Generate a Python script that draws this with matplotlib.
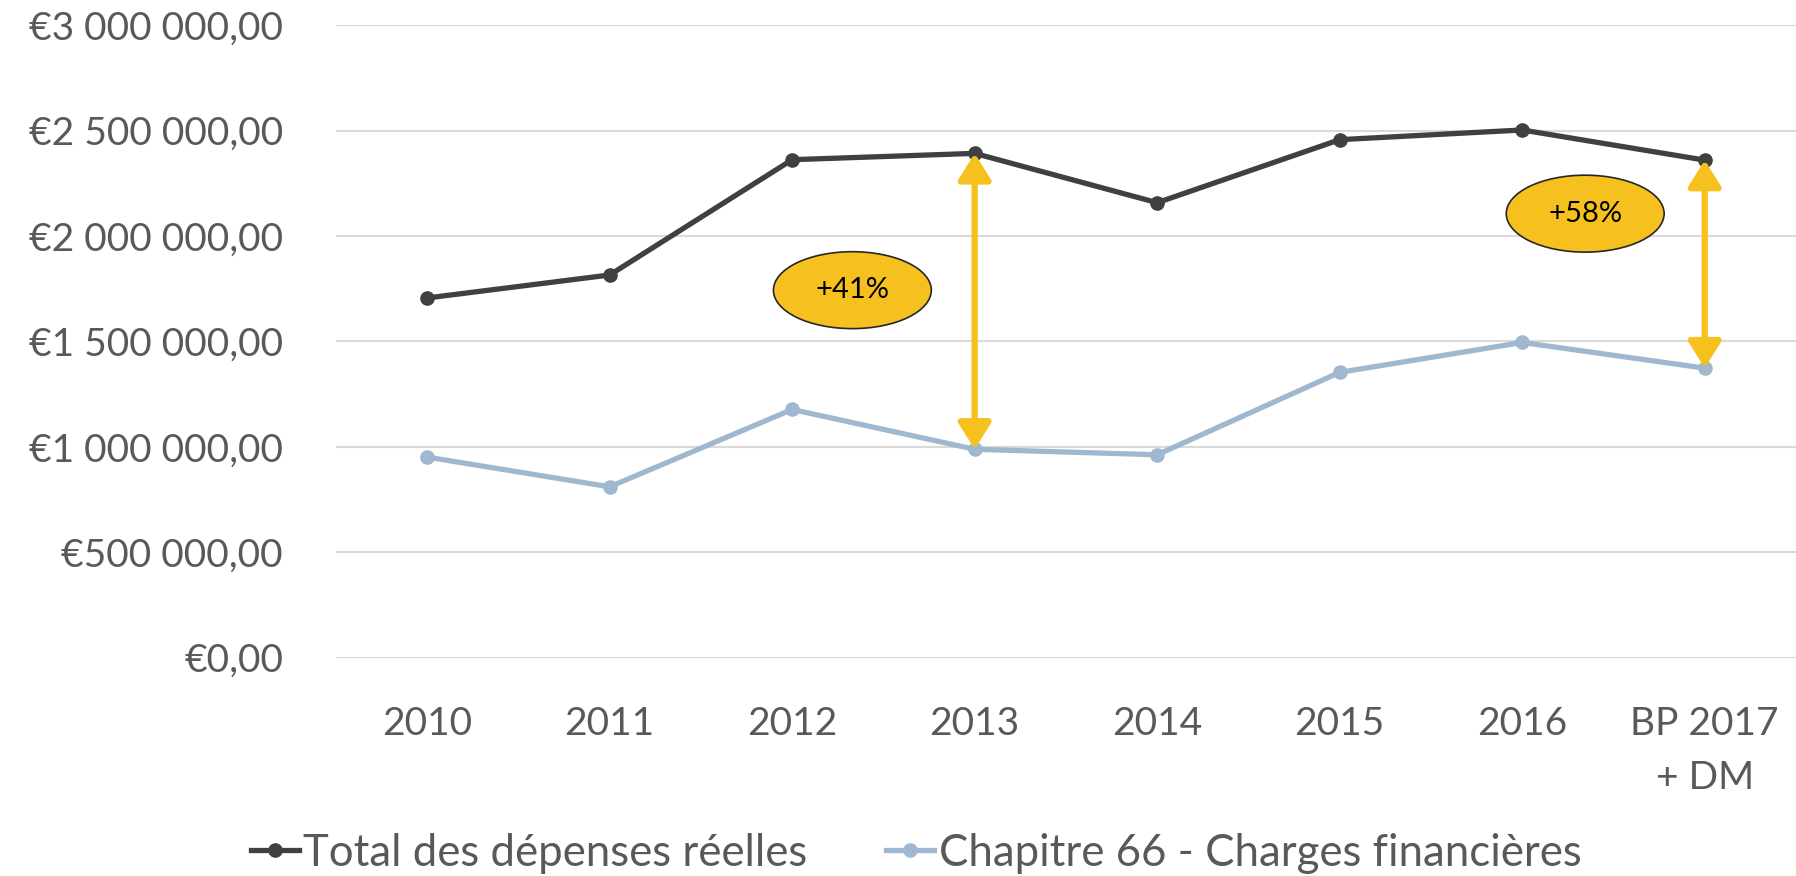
import matplotlib
matplotlib.use("Agg")
import matplotlib.pyplot as plt
from matplotlib.patches import Ellipse
from matplotlib.lines import Line2D
from matplotlib.ticker import FuncFormatter

categories = ["2010", "2011", "2012", "2013", "2014", "2015", "2016", "BP 2017\n+ DM"]
total_depenses = [1706000, 1815000, 2362000, 2392000, 2158000, 2457000, 2503000, 2360000]
charges_financieres = [951000, 810000, 1177000, 988000, 962000, 1353000, 1495000, 1373000]
series_names = ["Total des dépenses réelles", "Chapitre 66 - Charges financières"]
y_ticks = [0, 500000, 1000000, 1500000, 2000000, 2500000, 3000000]
annotations = [("+41%", 2.33, 1743000), ("+58%", 6.345, 2106000)]
arrow_idx = [3, 7]

plt.rcParams['font.family'] = ['Lato', 'DejaVu Sans']

DARK = "#404040"
BLUE = "#9FB8CF"
YELLOW = "#F6C11F"
TXT = "#595959"

fig = plt.figure(figsize=(17.96, 8.76), dpi=100)
ax = fig.add_axes([0.187, 0.2494, 0.813, 0.7218])

x = list(range(len(categories)))
ax.plot(x, total_depenses, color=DARK, lw=3.8, marker='o', ms=9.5, zorder=3)
ax.plot(x, charges_financieres, color=BLUE, lw=3.8, marker='o', ms=9.5, zorder=3)

for i in arrow_idx:
    ax.annotate("", xy=(i, charges_financieres[i]), xytext=(i, total_depenses[i]),
                arrowprops=dict(arrowstyle='<|-|>,head_length=0.8,head_width=0.5',
                                color=YELLOW, lw=4.5, shrinkA=0, shrinkB=0,
                                mutation_scale=20), zorder=4)

for txt, cx, cy in annotations:
    e = Ellipse((cx, cy), width=0.865, height=365000, facecolor=YELLOW,
                edgecolor="#262626", lw=1.2, zorder=5)
    ax.add_patch(e)
    ax.text(cx, cy, txt, ha='center', va='center', fontsize=21, color='black', zorder=6)

ax.set_xlim(-0.5, len(categories) - 0.5)
ax.set_ylim(0, 3000000)
ax.set_yticks(y_ticks)
ax.set_xticks(x)
ax.set_xticklabels(categories)

def fmt(v, pos):
    s = f"{int(round(v)):,}".replace(",", " ")
    return "€" + s + ",00"

ax.yaxis.set_major_formatter(FuncFormatter(fmt))
ax.grid(axis='y', color="#D9D9D9", lw=1.5)
ax.set_axisbelow(True)
for sp in ax.spines.values():
    sp.set_visible(False)
ax.tick_params(axis='both', length=0, labelsize=28, labelcolor=TXT)
ax.tick_params(axis='y', pad=38)
ax.tick_params(axis='x', pad=35)
for lab in ax.get_xticklabels():
    lab.set_linespacing(1.6)

handles = [Line2D([0], [0], color=DARK, lw=3.8, marker='o', ms=9.5),
           Line2D([0], [0], color=BLUE, lw=3.8, marker='o', ms=9.5)]
leg = fig.legend(handles, series_names, loc='center', bbox_to_anchor=(0.51, 0.026),
                 ncol=2, frameon=False, fontsize=31.5, handlelength=1.1,
                 handletextpad=0.1, columnspacing=1.8)
for t in leg.get_texts():
    t.set_color(TXT)

fig.savefig("out.png", dpi=100)
